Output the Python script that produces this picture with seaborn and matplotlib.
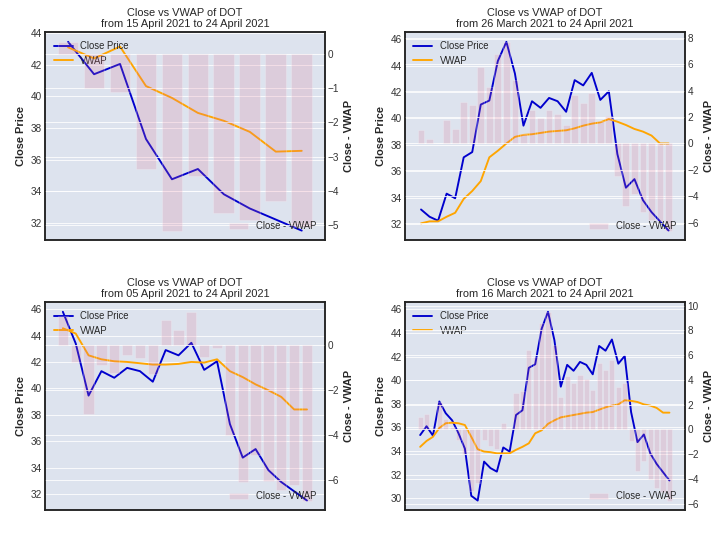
import numpy as np
import matplotlib
matplotlib.use("Agg")
import matplotlib.pyplot as plt
import seaborn as sns

# DOT daily close, 16 March 2021 .. 24 April 2021 (40 days)
close = [35.35, 36.1, 35.3, 38.2, 37.2, 36.6, 35.5, 34.2, 30.2, 29.8,
         33.1, 32.55, 32.25, 34.3, 33.95, 37.05, 37.45, 41.05, 41.35, 44.35,
         45.8, 43.4, 39.45, 41.3, 40.8, 41.55, 41.3, 40.5, 42.9, 42.5,
         43.45, 41.4, 42.05, 37.3, 34.75, 35.4, 33.8, 32.9, 32.2, 31.5]

# VWAP and Close - VWAP for each window
vwap_10 = [43.1, 42.4, 43.15, 40.65, 39.9, 38.95, 38.45, 37.75, 36.5, 36.55]
diff_10 = [0.35, -1.0, -1.1, -3.35, -5.15, -3.55, -4.65, -4.85, -4.3, -5.05]

vwap_30 = [32.05, 32.2, 32.2, 32.55, 32.85, 33.9, 34.5, 35.25, 37.05, 37.55,
           38.1, 38.6, 38.75, 38.8, 38.9, 39.0, 39.05, 39.1, 39.25, 39.45,
           39.6, 39.7, 39.95, 39.75, 39.5, 39.2, 39.0, 38.7, 38.1, 38.1]
diff_30 = [1.05, 0.35, 0.05, 1.75, 1.1, 3.15, 2.95, 5.8, 4.3, 6.8,
           7.7, 4.8, 0.7, 2.5, 1.9, 2.55, 2.25, 1.4, 3.65, 3.05,
           3.85, 1.7, 2.1, -2.45, -4.75, -3.8, -5.2, -5.8, -5.9, -6.6]

vwap_20 = [44.55, 44.15, 42.5, 42.2, 42.05, 42.0, 41.9, 41.8, 41.8, 41.85,
           42.0, 41.95, 42.2, 41.3, 40.85, 40.3, 39.85, 39.35, 38.4, 38.4]
diff_20 = [1.25, -0.75, -3.05, -0.9, -1.25, -0.45, -0.6, -1.3, 1.1, 0.65,
           1.45, -0.55, -0.15, -4.0, -6.1, -4.9, -6.05, -6.45, -6.2, -6.9]

vwap_40 = [34.35, 34.85, 35.2, 35.95, 36.35, 36.4, 36.35, 36.2, 35.2, 34.15,
           33.95, 33.9, 33.8, 33.8, 33.8, 34.1, 34.35, 34.65, 35.5, 35.75,
           36.3, 36.6, 36.85, 36.95, 37.05, 37.15, 37.25, 37.3, 37.5, 37.7,
           37.85, 37.95, 38.3, 38.25, 38.15, 37.95, 37.85, 37.65, 37.25, 37.25]
diff_40 = [1.0, 1.25, 0.1, 2.25, 0.85, 0.2, -0.85, -2.0, -5.0, -4.35,
           -0.85, -1.35, -1.55, 0.5, 0.15, 2.95, 3.1, 6.4, 5.85, 8.6,
           9.5, 6.8, 2.6, 4.35, 3.75, 4.4, 4.05, 3.2, 5.4, 4.8,
           5.6, 3.45, 3.75, -0.95, -3.4, -2.55, -4.05, -4.75, -5.05, -5.75]

start_dates = ["15 April 2021", "26 March 2021", "05 April 2021", "16 March 2021"]
end_date = "24 April 2021"

sns.set_style("darkgrid", {
    "axes.facecolor": "#dde3ee",
    "axes.edgecolor": "#222222",
    "grid.color": "white",
})
plt.rcParams["font.family"] = ["Liberation Sans", "DejaVu Sans"]
plt.rcParams["axes.linewidth"] = 1.5

fig, axes = plt.subplots(2, 2, figsize=(10, 7.5), dpi=72)
fig.subplots_adjust(left=0.0625, right=0.951, top=0.94, bottom=0.0556,
                    wspace=0.286, hspace=0.3)

panels = [
    (close[-10:], vwap_10, diff_10, start_dates[0]),
    (close[-30:], vwap_30, diff_30, start_dates[1]),
    (close[-20:], vwap_20, diff_20, start_dates[2]),
    (close, vwap_40, diff_40, start_dates[3]),
]

for ax, (c, v, d, start) in zip(axes.flat, panels):
    n = len(c)
    idx = np.arange(n)
    sns.lineplot(x=idx, y=c, ax=ax, color="mediumblue", lw=1.9, label="Close Price")
    sns.lineplot(x=idx, y=v, ax=ax, color="orange", lw=1.9, label="VWAP")
    ax.legend(loc="upper left", frameon=False, fontsize=9.5)
    ax.set_ylabel("Close Price", fontsize=11, fontweight="bold", labelpad=5)
    ax.set_title(f"Close vs VWAP of DOT\nfrom {start} to {end_date}", fontsize=11, pad=5)

    ax2 = ax.twinx()
    sns.barplot(x=idx, y=d, ax=ax2, color="palevioletred", alpha=0.2,
                saturation=1, width=0.8, errorbar=None, label="Close - VWAP")
    ax2.legend(loc="lower right", frameon=False, fontsize=9.5)
    ax2.set_ylabel("Close - VWAP", fontsize=11, fontweight="bold", labelpad=5)
    ax2.set_xlabel("")

    pad = 0.05 * (n - 0.2)
    ax.set_xlim(-0.4 - pad, n - 0.6 + pad)
    ax.set_xticks([])
    for a in (ax, ax2):
        a.tick_params(axis="y", length=0, pad=3, labelsize=10, labelcolor="#333333")

fig.savefig("out.png", dpi=72)
